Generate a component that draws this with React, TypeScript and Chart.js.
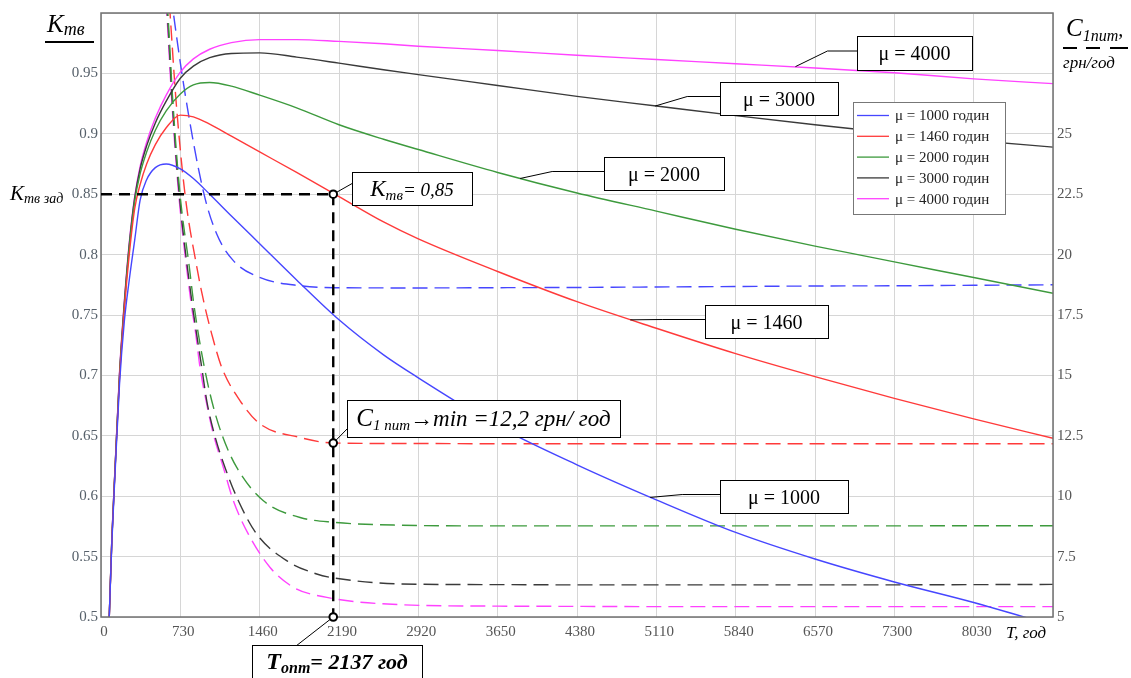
import React, { useEffect, useRef } from 'react';
import { Chart, registerables } from 'chart.js';
Chart.register(...registerables);

const SERIF = "'Liberation Serif', 'Times New Roman', serif";

// ---- data ----
const MU = ['1000', '1460', '2000', '3000', '4000'];
const COLORS = ['#4646ff', '#ff3a3a', '#3d9a3d', '#3a3a3a', '#ff42ff'];

const X_MAX = 8760;
const X_STEP = 730;

// K_tv(T), left axis
const T_K = [76, 100, 130, 170, 215, 260, 310, 360, 420, 500, 600, 730, 850, 1000, 1200, 1460, 1800, 2190, 2600, 2920, 3650, 4380, 5110, 5840, 6570, 7300, 8030, 8760];
const K_1000 = [0.5, 0.562, 0.62, 0.692, 0.745, 0.779, 0.812, 0.845, 0.862, 0.872, 0.875, 0.871, 0.863, 0.85, 0.832, 0.809, 0.779, 0.746, 0.717, 0.698, 0.658, 0.626, 0.597, 0.57, 0.548, 0.529, 0.512, 0.493];
const K_1460 = [0.5, 0.564, 0.623, 0.697, 0.755, 0.8, 0.838, 0.858, 0.875, 0.891, 0.905, 0.9155, 0.914, 0.908, 0.898, 0.885, 0.868, 0.848, 0.827, 0.813, 0.786, 0.761, 0.739, 0.718, 0.699, 0.681, 0.664, 0.648];
const K_2000 = [0.5, 0.565, 0.624, 0.699, 0.758, 0.806, 0.844, 0.867, 0.885, 0.903, 0.919, 0.933, 0.9405, 0.9425, 0.9395, 0.932, 0.9215, 0.9075, 0.8955, 0.887, 0.868, 0.851, 0.836, 0.821, 0.807, 0.794, 0.781, 0.768];
const K_3000 = [0.5, 0.565, 0.624, 0.7, 0.76, 0.808, 0.847, 0.871, 0.89, 0.909, 0.927, 0.946, 0.956, 0.963, 0.9665, 0.967, 0.9635, 0.9585, 0.953, 0.949, 0.94, 0.931, 0.923, 0.915, 0.9075, 0.9005, 0.8945, 0.889];
const K_4000 = [0.5, 0.566, 0.625, 0.702, 0.762, 0.81, 0.848, 0.873, 0.893, 0.913, 0.932, 0.951, 0.962, 0.97, 0.9755, 0.978, 0.978, 0.9765, 0.9745, 0.9725, 0.969, 0.965, 0.9615, 0.958, 0.9545, 0.9505, 0.9455, 0.9415];

// C_1pit(T), right axis
const T_C_1000 = [620, 666, 783, 948, 1065, 1218, 1458, 1832, 2190, 2920, 3650, 4380, 5110, 5840, 6570, 7300, 8030, 8760];
const C_1000 = [31.7, 30, 26.4, 22.5, 20.85, 19.75, 19.06, 18.71, 18.63, 18.62, 18.63, 18.64, 18.66, 18.68, 18.7, 18.71, 18.73, 18.75];
const T_C_1460 = [600, 635, 690, 773, 881, 948, 1019, 1111, 1280, 1464, 1832, 2137, 2920, 3650, 4380, 5110, 5840, 6570, 7300, 8030, 8760];
const C_1460 = [32.2, 30, 26.4, 22.5, 19.5, 18.0, 16.71, 15.33, 13.95, 12.99, 12.43, 12.2, 12.18, 12.17, 12.17, 12.17, 12.17, 12.17, 12.17, 12.17, 12.17];
const T_C_2000 = [590, 615, 660, 727, 813, 850, 896, 951, 1019, 1111, 1249, 1494, 1832, 2139, 2753, 3650, 4380, 5110, 5840, 6570, 7300, 8030, 8760];
const C_2000 = [31.4, 30, 26.4, 22.5, 19.47, 18.09, 16.71, 15.33, 13.95, 12.57, 11.19, 9.81, 9.12, 8.92, 8.8, 8.77, 8.77, 8.77, 8.77, 8.77, 8.77, 8.78, 8.78];
const T_C_3000 = [585, 610, 655, 720, 835, 880, 927, 973, 1043, 1141, 1264, 1433, 1709, 1985, 2139, 2753, 3650, 4380, 5110, 5840, 6570, 7300, 8030, 8760];
const C_3000 = [31.4, 30, 26.4, 22.5, 18.09, 16.71, 15.33, 13.95, 12.57, 11.19, 9.81, 8.43, 7.33, 6.78, 6.62, 6.37, 6.34, 6.33, 6.33, 6.33, 6.33, 6.33, 6.34, 6.35];
const T_C_4000 = [580, 605, 651, 715, 826, 872, 911, 967, 1034, 1126, 1218, 1356, 1556, 1770, 2078, 2753, 3650, 4380, 5110, 5840, 6570, 7300, 8030, 8760];
const C_4000 = [31.4, 30, 26.4, 22.5, 18.09, 16.71, 15.33, 13.95, 12.57, 11.19, 9.81, 8.43, 7.05, 6.23, 5.81, 5.51, 5.45, 5.44, 5.43, 5.43, 5.43, 5.43, 5.43, 5.43];

const K_SERIES = [K_1000, K_1460, K_2000, K_3000, K_4000];
const C_T = [T_C_1000, T_C_1460, T_C_2000, T_C_3000, T_C_4000];
const C_SERIES = [C_1000, C_1460, C_2000, C_3000, C_4000];

const T_OPT = 2137;
const K_TARGET = 0.85;
const C_MIN = 12.2;

// callout anchors on curves: [T, K]
const MU_ANCHORS: [number, number][] = [[5054, 0.599], [4870, 0.746], [3857, 0.863], [5100, 0.923], [6390, 0.9556]];

type Run = { t: string; f: string; dy?: number };

function runsWidth(ctx: CanvasRenderingContext2D, runs: Run[]) {
  let w = 0;
  for (const r of runs) { ctx.font = r.f; w += ctx.measureText(r.t).width; }
  return w;
}
function drawRuns(ctx: CanvasRenderingContext2D, x: number, y: number, runs: Run[]) {
  for (const r of runs) {
    ctx.font = r.f;
    ctx.fillText(r.t, x, y + (r.dy || 0));
    x += ctx.measureText(r.t).width;
  }
  return x;
}
function box(ctx: CanvasRenderingContext2D, x: number, y: number, w: number, h: number, runs: Run[], baseOff = 0) {
  ctx.save();
  ctx.setLineDash([]);
  ctx.fillStyle = '#fff';
  ctx.fillRect(x, y, w, h);
  ctx.strokeStyle = '#000';
  ctx.lineWidth = 1;
  ctx.strokeRect(x + 0.5, y + 0.5, w, h);
  ctx.fillStyle = '#000';
  ctx.textBaseline = 'alphabetic';
  const tw = runsWidth(ctx, runs);
  drawRuns(ctx, x + (w - tw) / 2, y + h / 2 + 7 + baseOff, runs);
  ctx.restore();
}
function leader(ctx: CanvasRenderingContext2D, pts: number[][]) {
  ctx.save();
  ctx.setLineDash([]);
  ctx.strokeStyle = '#000';
  ctx.lineWidth = 1;
  ctx.beginPath();
  ctx.moveTo(pts[0][0], pts[0][1]);
  for (let i = 1; i < pts.length; i++) ctx.lineTo(pts[i][0], pts[i][1]);
  ctx.stroke();
  ctx.restore();
}
function ring(ctx: CanvasRenderingContext2D, x: number, y: number) {
  ctx.save();
  ctx.setLineDash([]);
  ctx.beginPath();
  ctx.arc(x, y, 3.8, 0, Math.PI * 2);
  ctx.fillStyle = '#fff';
  ctx.fill();
  ctx.lineWidth = 2;
  ctx.strokeStyle = '#000';
  ctx.stroke();
  ctx.restore();
}

const annotPlugin = {
  id: 'annot',
  afterDatasetsDraw(chart: any) {
    const { ctx, chartArea: a, scales } = chart;
    const sx = scales.x, yl = scales.y, yr = scales.y1;
    ctx.save();
    // frame
    ctx.strokeStyle = '#707070';
    ctx.lineWidth = 1.5;
    ctx.strokeRect(a.left, a.top, a.right - a.left, a.bottom - a.top);

    // guide lines
    const px = sx.getPixelForValue(T_OPT);
    const pk = yl.getPixelForValue(K_TARGET);
    const pc = yr.getPixelForValue(C_MIN);
    ctx.strokeStyle = '#000';
    ctx.lineWidth = 2.4;
    ctx.setLineDash([11, 7]);
    ctx.beginPath();
    ctx.moveTo(a.left, pk); ctx.lineTo(px, pk);
    ctx.stroke();
    ctx.beginPath();
    ctx.moveTo(px, pk); ctx.lineTo(px, a.bottom);
    ctx.stroke();
    ctx.setLineDash([]);

    // callouts for guide points
    leader(ctx, [[px, pk], [353, 183]]);
    leader(ctx, [[px, pc], [348, 428]]);
    leader(ctx, [[px, a.bottom], [296, 646]]);
    ring(ctx, px, pk);
    ring(ctx, px, pc);
    ring(ctx, px, a.bottom);

    box(ctx, 352, 172, 120, 33, [
      { t: 'K', f: `italic 23px ${SERIF}` },
      { t: 'тв', f: `italic 15px ${SERIF}`, dy: 4 },
      { t: '= 0,85', f: `italic 19px ${SERIF}` },
    ]);
    box(ctx, 347, 400, 273, 37, [
      { t: 'C', f: `italic 25px ${SERIF}` },
      { t: '1 пит', f: `italic 15px ${SERIF}`, dy: 4 },
      { t: '→min =12,2 грн/ год', f: `italic 23px ${SERIF}` },
    ]);
    box(ctx, 252, 645, 170, 40, [
      { t: 'T', f: `bold italic 24px ${SERIF}` },
      { t: 'опт', f: `bold italic 16px ${SERIF}`, dy: 4 },
      { t: '= 2137', f: `bold italic 22px ${SERIF}` },
      { t: ' год', f: `bold italic 22px ${SERIF}` },
    ], -3);

    // mu callouts
    const muBoxes = [
      [720, 480, 128, 33],
      [705, 305, 123, 33],
      [604, 157, 120, 33],
      [720, 82, 118, 33],
      [857, 36, 115, 34],
    ];
    for (let i = 0; i < 5; i++) {
      const [bx, by, bw, bh] = muBoxes[i];
      const ax = sx.getPixelForValue(MU_ANCHORS[i][0]);
      const ay = yl.getPixelForValue(MU_ANCHORS[i][1]);
      const my = by + bh / 2 - 2;
      leader(ctx, [[ax, ay], [ax + 32, my], [bx, my]]);
      box(ctx, bx, by, bw, bh, [{ t: `μ = ${MU[i]}`, f: `20px ${SERIF}` }]);
    }

    // legend
    const lx = 853, ly = 102, lw = 152, lh = 112;
    ctx.fillStyle = '#fff';
    ctx.fillRect(lx, ly, lw, lh);
    ctx.strokeStyle = '#777';
    ctx.lineWidth = 1;
    ctx.strokeRect(lx + 0.5, ly + 0.5, lw, lh);
    ctx.textBaseline = 'middle';
    for (let i = 0; i < 5; i++) {
      const yy = ly + 13.5 + i * 20.8;
      ctx.strokeStyle = COLORS[i];
      ctx.lineWidth = 1.3;
      ctx.beginPath(); ctx.moveTo(857, yy); ctx.lineTo(889, yy); ctx.stroke();
      ctx.fillStyle = '#222';
      ctx.font = `15px ${SERIF}`;
      ctx.fillText(`μ = ${MU[i]} годин`, 895, yy + 1);
    }

    // axis titles
    ctx.textBaseline = 'alphabetic';
    ctx.fillStyle = '#000';
    drawRuns(ctx, 47, 32, [
      { t: 'K', f: `italic 25px ${SERIF}` },
      { t: 'тв', f: `italic 18px ${SERIF}`, dy: 3 },
    ]);
    ctx.fillRect(45, 41, 49, 2);
    drawRuns(ctx, 10, 200, [
      { t: 'K', f: `italic 21px ${SERIF}` },
      { t: 'тв зад', f: `italic 14px ${SERIF}`, dy: 3 },
    ]);
    drawRuns(ctx, 1066, 36, [
      { t: 'C', f: `italic 25px ${SERIF}` },
      { t: '1пит', f: `italic 16px ${SERIF}`, dy: 5 },
      { t: ',', f: `italic 20px ${SERIF}` },
    ]);
    ctx.fillRect(1063, 47, 14, 2);
    ctx.fillRect(1086, 47, 14, 2);
    ctx.fillRect(1110, 47, 18, 2);
    ctx.font = `italic 17px ${SERIF}`;
    ctx.fillText('грн/год', 1063, 68);
    ctx.font = `italic 17px ${SERIF}`;
    ctx.fillText('T, год', 1006, 638);
    ctx.restore();
  },
};

export default function App() {
  const ref = useRef<HTMLCanvasElement | null>(null);
  useEffect(() => {
    document.body.style.margin = '0';
    const canvas = ref.current!;
    const datasets: any[] = [];
    for (let i = 0; i < 5; i++) {
      datasets.push({
        label: `μ = ${MU[i]} годин`,
        data: T_K.map((t, j) => ({ x: t, y: K_SERIES[i][j] })),
        borderColor: COLORS[i],
        borderWidth: 1.4,
        pointRadius: 0,
        cubicInterpolationMode: 'monotone',
        yAxisID: 'y',
      });
    }
    for (let i = 0; i < 5; i++) {
      datasets.push({
        label: `C ${MU[i]}`,
        data: C_T[i].map((t, j) => ({ x: t, y: C_SERIES[i][j] })),
        borderColor: COLORS[i],
        borderWidth: 1.4,
        borderDash: [15, 7],
        pointRadius: 0,
        cubicInterpolationMode: 'monotone',
        yAxisID: 'y1',
      });
    }
    const tickFont = { family: SERIF, size: 15 };
    const chart = new Chart(canvas, {
      type: 'line',
      data: { datasets },
      options: {
        animation: false,
        responsive: false,
        events: [],
        layout: { padding: { top: 12, left: 0, right: 0, bottom: 0 } },
        plugins: { legend: { display: false }, tooltip: { enabled: false } },
        scales: {
          x: {
            type: 'linear',
            min: 0,
            max: X_MAX,
            afterFit: (s: any) => { s.height = 61; },
            ticks: {
              stepSize: X_STEP,
              autoSkip: false,
              maxRotation: 0,
              padding: 6,
              labelOffset: 3,
              color: '#555',
              font: tickFont,
              callback: (v: any) => (v >= X_MAX ? '' : String(v)),
            },
            grid: { color: '#d6d6d6', drawTicks: false, lineWidth: 1 },
            border: { display: false },
          },
          y: {
            type: 'linear',
            position: 'left',
            min: 0.5,
            max: 1.0,
            afterFit: (s: any) => { s.width = 101; },
            ticks: {
              stepSize: 0.05,
              padding: 3,
              color: '#56606a',
              font: tickFont,
              callback: (v: any) => (v > 0.99 ? '' : String(Math.round(v * 100) / 100)),
            },
            grid: { color: '#d6d6d6', drawTicks: false, lineWidth: 1 },
            border: { display: false },
          },
          y1: {
            type: 'linear',
            position: 'right',
            min: 5,
            max: 30,
            afterFit: (s: any) => { s.width = 78; },
            ticks: {
              stepSize: 2.5,
              padding: 4,
              color: '#555',
              font: tickFont,
              callback: (v: any) => (v > 26 ? '' : String(Math.round(v * 10) / 10)),
            },
            grid: { drawOnChartArea: false, drawTicks: false },
            border: { display: false },
          },
        },
      },
      plugins: [annotPlugin],
    } as any);
    return () => chart.destroy();
  }, []);
  return (
    <div style={{ position: 'absolute', left: 0, top: 0, width: 1131, height: 678, overflow: 'hidden', background: '#fff' }}>
      <canvas ref={ref} width={1131} height={678} style={{ display: 'block' }} />
    </div>
  );
}
